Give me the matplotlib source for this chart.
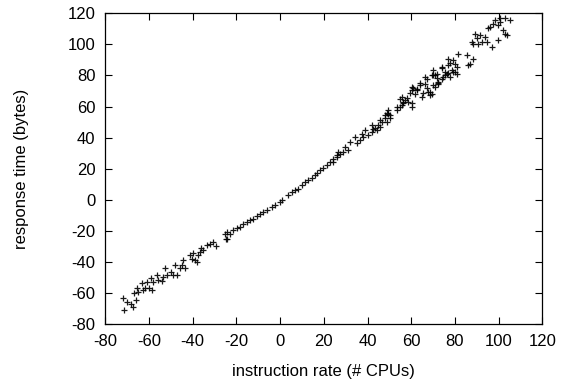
import matplotlib
matplotlib.use("Agg")
import matplotlib.pyplot as plt

plt.rcParams['font.family'] = ['Liberation Sans', 'DejaVu Sans']
plt.rcParams['axes.unicode_minus'] = False

x_vals = [
    -71.5, -71.8, -70.2, -68.4, -67.2, -65.9, -66.9, -64.9, -65.6, -62.9,
    -63.3, -61.8, -59.9, -58.8, -61.0, -59.2, -58.1, -56.5, -55.8, -54.2,
    -53.5, -51.9, -52.6, -50.0, -48.9, -47.3, -48.1, -45.8, -44.3, -45.0,
    -43.5, -41.2, -40.4, -38.9, -39.7, -37.5, -38.2, -36.6, -35.2, -36.3,
    -33.6, -32.0, -30.6, -29.3, -25.2, -24.7,
    -24.4, -24.4, -22.9, -21.4, -19.9, -18.3, -16.9, -15.3, -13.7, -12.3,
    -10.7, -9.2, -7.7, -6.1, -3.8, -2.3, 0.0, 0.7, 3.7, 5.3,
    6.9, 8.3, 9.9, 11.4, 12.9, 14.5, 16.0, 16.8, 18.3, 19.7,
    21.3, 22.9, 24.3, 25.9, 26.6,
    24.3, 25.9, 27.5, 28.9, 29.7, 31.2, 32.0, 34.3, 35.1, 36.6,
    37.4, 38.0, 38.9, 40.3, 41.9, 42.6, 44.2, 45.8, 45.8, 48.0,
    48.8, 49.5, 50.3, 53.4, 54.9, 56.4, 54.9, 57.2, 58.6, 60.2,
    60.2, 61.8, 62.5, 64.1, 64.8, 66.3, 67.1, 67.8, 68.6, 70.1,
    70.9, 72.4, 74.0, 75.5,
    69.4, 70.9, 70.1, 72.4, 71.7, 74.0, 74.7, 76.2, 76.9, 77.8,
    79.2, 80.1, 79.2, 80.8, 81.5, 76.9, 85.4, 86.9, 88.4, 86.1,
    87.7, 88.4, 90.0, 89.2, 91.5, 90.7, 92.3, 93.8, 94.6, 96.8,
    95.3, 96.1, 97.5, 98.4, 99.8, 100.7, 100.7, 103.0, 105.3, 102.1,
    103.0, 103.7, 99.8,
    41.9, 43.4, 44.9, 46.5, 48.8, 49.5, 48.0, 50.3, 53.4, 55.6,
    56.4, 55.6, 57.9, 60.2, 59.5, 61.0, 60.2, 62.5, 64.0, 65.5,
    67.1, 68.6, 66.3, 69.4, 70.1, 71.7, 72.4, 74.0, 75.5, 77.0,
    78.5, 77.8, 80.0, 80.8,
]
y_vals = [
    -71.0, -63.1, -65.7, -66.8, -69.0, -64.7, -59.8, -59.3, -57.1, -58.1,
    -53.6, -56.7, -57.1, -58.1, -52.9, -50.2, -53.2, -48.2, -51.8, -52.5,
    -49.7, -48.6, -44.2, -46.4, -48.6, -48.2, -42.1, -44.2, -38.9, -42.2,
    -44.2, -35.7, -37.9, -38.9, -34.6, -35.7, -40.0, -33.5, -32.4, -30.9,
    -29.3, -28.2, -27.2, -29.8, -21.8, -25.4,
    -25.0, -20.7, -21.8, -19.6, -18.5, -17.5, -15.4, -14.3, -13.2, -12.1,
    -10.4, -9.5, -8.2, -6.7, -4.6, -3.5, -1.4, -0.3, 3.0, 4.7,
    6.1, 7.2, 9.4, 11.1, 12.6, 14.1, 15.9, 16.9, 19.0, 20.5,
    22.2, 24.4, 26.5, 28.6, 30.8,
    24.4, 27.6, 29.7, 30.8, 34.0, 31.9, 37.3, 40.5, 36.2, 38.4,
    42.6, 40.5, 44.8, 41.5, 48.0, 45.8, 44.8, 46.9, 51.3, 54.4,
    50.2, 55.5, 52.3, 57.7, 59.8, 62.0, 65.1, 64.2, 63.1, 59.8,
    70.6, 68.3, 71.6, 73.8, 66.2, 74.8, 78.0, 69.4, 67.3, 73.8,
    80.2, 75.9, 78.0, 80.2,
    68.3, 72.7, 80.2, 74.8, 81.2, 84.5, 79.1, 81.2, 86.7, 79.1,
    82.3, 87.6, 89.8, 81.2, 94.1, 90.9, 93.1, 87.6, 90.9, 86.7,
    101.6, 100.5, 103.8, 107.0, 106.0, 100.5, 101.6, 104.9, 101.6, 98.5,
    110.3, 111.4, 113.4, 115.6, 112.4, 114.5, 116.7, 116.7, 115.6, 109.2,
    107.0, 106.0, 102.8,
    43.9, 46.0, 48.2, 50.3, 55.7, 57.8, 52.5, 54.6, 59.9, 61.0,
    63.2, 66.4, 65.4, 62.1, 68.6, 71.8, 72.8, 70.7, 75.0, 68.6,
    71.8, 69.6, 79.3, 80.4, 83.6, 78.2, 75.0, 85.7, 82.5, 81.5,
    83.6, 87.9, 82.5, 85.7,
]

x_ticks = [-80, -60, -40, -20, 0, 20, 40, 60, 80, 100, 120]
y_ticks = [-80, -60, -40, -20, 0, 20, 40, 60, 80, 100, 120]

fig = plt.figure(figsize=(5.65, 3.88), dpi=100)
ax = fig.add_axes([0.1864, 0.1649, 0.7735, 0.8008])
ax.plot(x_vals, y_vals, linestyle='none', marker='+', color='black',
        markersize=5, markeredgewidth=0.9, alpha=0.9)
ax.set_xlim(-80, 120)
ax.set_ylim(-80, 120)
ax.set_xticks(x_ticks)
ax.set_yticks(y_ticks)
ax.tick_params(direction='in', length=5, width=0.8, top=True, right=True,
               labelsize=12, pad=7)
for s in ax.spines.values():
    s.set_linewidth(0.9)
ax.set_xlabel('instruction rate (# CPUs)', fontsize=12, labelpad=11)
ax.set_ylabel('response time (bytes)', fontsize=12, labelpad=28)
fig.savefig('out.png', dpi=100)
